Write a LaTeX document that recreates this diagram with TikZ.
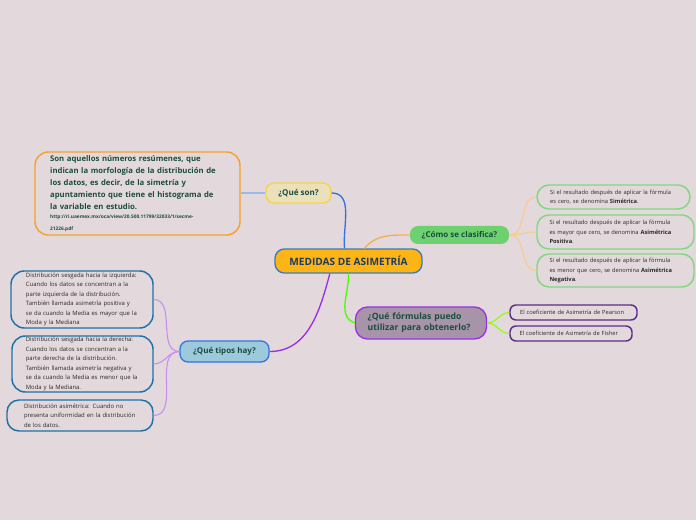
\documentclass[tikz,border=0pt]{standalone}
\usepackage{fontspec}
\setmainfont{Open Sans}
\usetikzlibrary{positioning}
\definecolor{mapbg}{HTML}{E3D8DB}
\definecolor{mapnavy}{HTML}{1F3A68}
\definecolor{mapgreen}{HTML}{1B4D3E}
\definecolor{mapink}{HTML}{2A2A2A}
\definecolor{rootfill}{HTML}{FDB515}
\definecolor{rootline}{HTML}{3A7BBF}
\definecolor{sonfill}{HTML}{EAE0BB}
\definecolor{sonline}{HTML}{F5D547}
\definecolor{defline}{HTML}{F7A12B}
\definecolor{clasfill}{HTML}{6DD16F}
\definecolor{clasleaf}{HTML}{7FD97F}
\definecolor{formfill}{HTML}{A794A8}
\definecolor{formline}{HTML}{9B2FE8}
\definecolor{formleaf}{HTML}{5C2D86}
\definecolor{tipofill}{HTML}{9DC9DD}
\definecolor{tipoline}{HTML}{3374E0}
\definecolor{tipoleaf}{HTML}{1E72A8}
\begin{document}
\begin{tikzpicture}[
  x=0.75pt,y=-0.75pt,
  rootbox/.style={draw=rootline,fill=rootfill,line width=1pt,rounded corners=7pt,
    minimum width=110.25pt,minimum height=18pt,inner sep=0pt,
    font=\fontsize{7.6}{8}\selectfont\bfseries,text=mapnavy},
  topic/.style={line width=1pt,rounded corners=6pt,inner sep=0pt,
    font=\fontsize{6}{8.3}\selectfont\bfseries,text=mapgreen},
  leaf/.style={line width=1.1pt,inner sep=0pt,align=left,text=mapink,
    font=\fontsize{4.45}{7.1}\selectfont},
  rightleaf/.style={leaf,font=\fontsize{4.3}{7.2}\selectfont},
  branch/.style={line width=1pt},
  twig/.style={line width=0.8pt}
]
  \fill[mapbg] (0,0) rectangle (696,520);

  % central topic
  \node[rootbox] (root) at (348.5,261) {MEDIDAS DE ASIMETRÍA};

  % que son
  \node[topic,draw=sonline,fill=sonfill,minimum width=48.75pt,minimum height=15pt]
    (queson) at (298.5,193) {¿Qué son?};
  \node[leaf,draw=defline,rounded corners=10pt,minimum width=153.75pt,
    minimum height=62.25pt,text width=131pt,text=mapgreen,
    font=\fontsize{5.8}{9}\selectfont\bfseries] (defin) at (137.5,193.5)
    {Son aquellos números resúmenes, que\\
     indican la morfología de la distribución de\\
     los datos, es decir, de la simetría y\\
     apuntamiento que tiene el histograma de\\
     la variable en estudio.\\[-1pt]
     {\fontsize{3.6}{8.2}\selectfont http://ri.uaemex.mx/oca/view/20.500.11799/32033/1/secme-\\
     21226.pdf}};

  % como se clasifica
  \node[topic,fill=clasfill,minimum width=74.25pt,minimum height=13.5pt]
    (clasif) at (459.5,235) {¿Cómo se clasifica?};
  \node[rightleaf,draw=clasleaf,rounded corners=9pt,minimum width=114.75pt,
    minimum height=18pt,text width=95pt] (simetr) at (613.5,197)
    {Si el resultado después de aplicar la fórmula\\
     es cero, se denomina \textbf{Simétrica}.};
  \node[rightleaf,draw=clasleaf,rounded corners=9pt,minimum width=117.75pt,
    minimum height=25.5pt,text width=99pt] (positv) at (615.5,232)
    {Si el resultado después de aplicar la fórmula\\
     es mayor que cero, se denomina \textbf{Asimétrica}\\
     \textbf{Positiva}.};
  \node[rightleaf,draw=clasleaf,rounded corners=9pt,minimum width=117.75pt,
    minimum height=24.75pt,text width=99pt] (negatv) at (615.5,270.5)
    {Si el resultado después de aplicar la fórmula\\
     es menor que cero, se denomina \textbf{Asimétrica}\\
     \textbf{Negativa}.};

  % formulas
  \node[topic,draw=formline,fill=formfill,rounded corners=9pt,minimum width=98.25pt,
    minimum height=24pt,text width=80pt,align=left,
    font=\fontsize{6.5}{8.3}\selectfont\bfseries] (formul) at (421,323)
    {¿Qué fórmulas puedo\\ utilizar para obtenerlo?};
  \node[rightleaf,draw=formleaf,rounded corners=4.5pt,minimum width=95.25pt,
    minimum height=11.25pt,text width=80pt] (pearson) at (573.5,312.5)
    {El coeficiente de Asimetría de Pearson};
  \node[rightleaf,draw=formleaf,rounded corners=4.5pt,minimum width=91.5pt,
    minimum height=11.25pt,text width=77pt] (fisher) at (571,333.5)
    {El coeficiente de Asimetría de Fisher};

  % tipos
  \node[topic,draw=tipoline,fill=tipofill,minimum width=66.75pt,minimum height=15.75pt]
    (tipos) at (224.5,351.5) {¿Qué tipos hay?};
  \node[leaf,draw=tipoleaf,rounded corners=10pt,minimum width=106.5pt,
    minimum height=42.75pt,text width=84pt] (izq) at (82,299.5)
    {Distribución sesgada hacia la izquierda:\\
     Cuando los datos se concentran a la\\
     parte izquierda de la distribución.\\
     También llamada asimetría positiva y\\
     se da cuando la Media es mayor que la\\
     Moda y la Mediana};
  \node[leaf,draw=tipoleaf,rounded corners=10pt,minimum width=105.75pt,
    minimum height=42pt,text width=85pt] (der) at (82.5,364)
    {Distribución sesgada hacia la derecha:\\
     Cuando los datos se concentran a la\\
     parte derecha de la distribución.\\
     También llamada asimetría negativa y\\
     se da cuando la Media es menor que la\\
     Moda y la Mediana.};
  \node[leaf,draw=tipoleaf,rounded corners=9pt,minimum width=109.5pt,
    minimum height=23.25pt,text width=84pt] (asim) at (80,415.5)
    {Distribución asimétrica: Cuando no\\
     presenta uniformidad en la distribución\\
     de los datos.};

  % branches from the centre
  \draw[branch,draw=tipoline] ([xshift=-3pt]root.north) to[out=95,in=0] (queson.east);
  \draw[branch,draw=defline!85] ([xshift=12pt]root.north) to[out=50,in=180] (clasif.west);
  \draw[branch,draw=green!70!yellow] (root.south) to[out=-88,in=160] (formul.west);
  \draw[branch,draw=formline] ([xshift=-14pt]root.south) to[out=-105,in=0] (tipos.east);

  % twigs to leaves
  \draw[twig,draw=tipoline!50] (queson.west) -- (defin.east |- queson.west);
  \foreach \leafnode in {simetr,positv,negatv}
    \draw[twig,draw=defline!55] (clasif.east) to[out=0,in=180] (\leafnode.west);
  \foreach \leafnode in {pearson,fisher}
    \draw[twig,draw=green!45!yellow] (formul.east) to[out=0,in=180] (\leafnode.west);
  \foreach \leafnode in {izq,der,asim}
    \draw[twig,draw=formline!55] (tipos.west) to[out=180,in=0] (\leafnode.east);
\end{tikzpicture}
\end{document}
